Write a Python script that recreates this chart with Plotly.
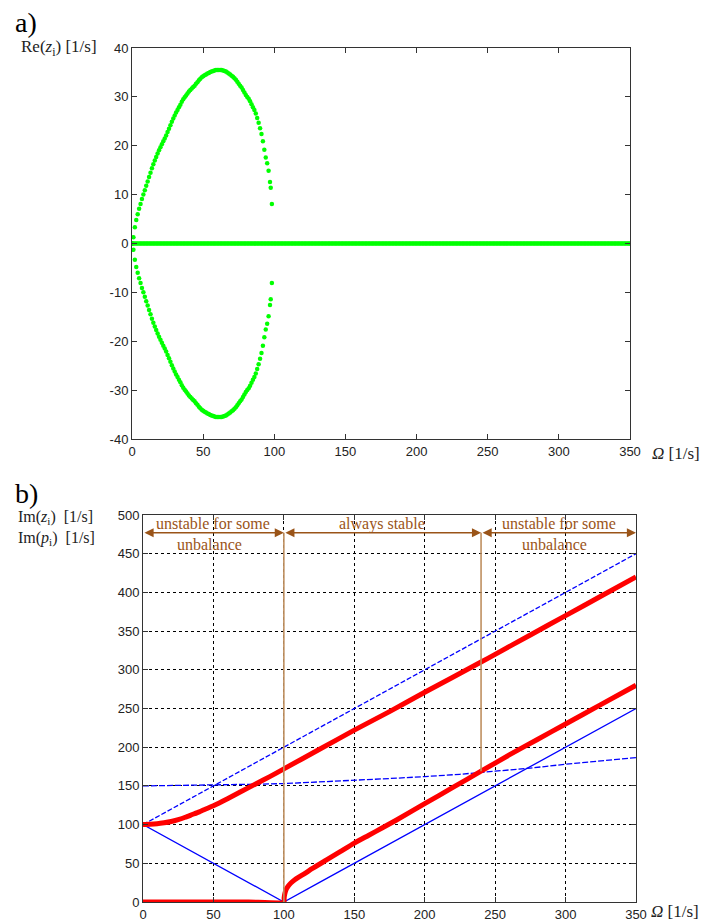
import plotly.graph_objects as go

W, H = 719, 924

# ---------------- panel a: real parts of the eigenvalues ----------------
omega_arc = [0, 1, 2, 3, 4, 5, 6, 7, 8, 9, 10, 11, 12, 13, 14, 15, 16, 17, 18, 19,
             20, 21, 22, 23, 24, 25, 26, 27, 28, 29, 30, 31, 32, 33, 34, 35, 36, 37,
             38, 39, 40, 41, 42, 43, 44, 45, 46, 47, 48, 49, 50, 51, 52, 53, 54, 55,
             56, 57, 58, 59, 60, 61, 62, 63, 64, 65, 66, 67, 68, 69, 70, 71, 72, 73,
             74, 75, 76, 77, 78, 79, 80, 81, 82, 83, 84, 85, 86, 87, 88, 89, 90, 91,
             92, 93, 94, 95, 96, 97, 97.5, 98.3]
re_upper = [0, 1.3, 3.3, 4.8, 6.0, 7.1, 8.1, 9.1, 10.0, 10.9, 11.8, 12.7, 13.6, 14.5,
            15.4, 16.2, 17.0, 17.7, 18.4, 19.1, 19.7, 20.3, 20.9, 21.5, 22.1, 22.8,
            23.5, 24.2, 24.9, 25.6, 26.2, 26.8, 27.3, 27.9, 28.4, 29.0, 29.5, 29.9,
            30.3, 30.7, 31.1, 31.4, 31.7, 32.0, 32.3, 32.7, 33.0, 33.4, 33.7, 34.0,
            34.2, 34.4, 34.6, 34.8, 34.9, 35.1, 35.2, 35.3, 35.4, 35.5, 35.5, 35.5,
            35.5, 35.5, 35.4, 35.3, 35.2, 35.0, 34.8, 34.6, 34.3, 34.1, 33.8, 33.5,
            33.1, 32.7, 32.3, 31.9, 31.4, 30.9, 30.4, 30.0, 29.6, 29.1, 28.5, 27.9,
            27.3, 26.6, 25.7, 24.7, 23.6, 22.4, 20.9, 19.2, 17.6, 16.4, 14.9, 12.6,
            11.4, 8.1]
re_lower = [0, -1.3, -3.3, -4.8, -6.0, -7.1, -8.1, -9.1, -10.0, -10.9, -11.8, -12.7,
            -13.6, -14.5, -15.4, -16.2, -17.0, -17.7, -18.4, -19.1, -19.7, -20.3,
            -20.9, -21.5, -22.1, -22.8, -23.5, -24.2, -24.9, -25.6, -26.2, -26.8,
            -27.3, -27.9, -28.4, -29.0, -29.5, -29.9, -30.3, -30.7, -31.1, -31.4,
            -31.7, -32.0, -32.3, -32.7, -33.0, -33.4, -33.7, -34.0, -34.2, -34.4,
            -34.6, -34.8, -34.9, -35.1, -35.2, -35.3, -35.4, -35.5, -35.5, -35.5,
            -35.5, -35.5, -35.4, -35.3, -35.2, -35.0, -34.8, -34.6, -34.3, -34.1,
            -33.8, -33.5, -33.1, -32.7, -32.3, -31.9, -31.4, -30.9, -30.4, -30.0,
            -29.6, -29.1, -28.5, -27.9, -27.3, -26.6, -25.7, -24.7, -23.6, -22.4,
            -20.9, -19.2, -17.6, -16.4, -14.9, -12.6, -11.4, -8.1]
omega_axis = list(range(0, 351))
re_axis = [0.0] * len(omega_axis)

# ---------------- panel b: imaginary parts ----------------
omega_p = [0, 25, 50, 75, 100, 125, 150, 175, 200, 225, 250, 275, 300, 325, 350]
im_p_sum = [100, 125, 150, 175, 200, 225, 250, 275, 300, 325, 350, 375, 400, 425, 450]
im_p_diff = [100, 75, 50, 25, 0, 25, 50, 75, 100, 125, 150, 175, 200, 225, 250]
im_p_flat = [150, 150.5, 151, 152, 153, 155, 157, 159.5, 162, 165, 169, 173, 178, 182, 186.5]

omega_z_up = [0, 5, 10, 15, 20, 25, 30, 35, 40, 45, 50, 60, 70, 80, 90, 100, 125,
              150, 175, 200, 240, 250, 275, 300, 325, 350]
im_z_up = [100, 100.3, 101, 102.3, 104, 106.5, 109.5, 113, 116.5, 120.5, 124.5,
           133.5, 143, 152.5, 162, 172, 197, 222, 246, 271, 310, 320, 345, 370, 395, 420]
omega_z_low = [0, 25, 50, 75, 100, 100.2, 100.5, 101, 102, 103, 105, 108, 110, 115,
               120, 130, 140, 150, 160, 170, 180, 200, 220, 240, 260, 280, 300, 325, 350]
im_z_low = [0, 0, 0, 0, 0, 5, 9, 13, 17.5, 20.5, 24.5, 29, 31.5, 37, 43, 54, 65, 76,
            86, 96, 106, 127, 148, 169, 190, 210, 230, 255, 280]

# stability regions along Omega
region_bounds = [0, 100, 240, 350]
region_top = ["unstable for some", "always stable", "unstable for some"]
region_bottom = ["unbalance", "", "unbalance"]
boundary_low = [0, 169]   # lower ends of the two boundary markers

x_ticks = [0, 50, 100, 150, 200, 250, 300, 350]
ya_ticks = [40, 30, 20, 10, 0, -10, -20, -30, -40]
ya_text = ["40", "30", "20", "10", "0", "-10", "-20", "-30", "-40"]
yb_ticks = [0, 50, 100, 150, 200, 250, 300, 350, 400, 450, 500]

GREEN = "#00ff00"
RED = "#ff0000"
BLUE = "#0000ff"
BROWN = "#9a5418"
TAN = "#bf9060"
SERIF = "Liberation Serif"
SANS = "Liberation Sans"


def px(x):
    return x / W


def py(y):
    return 1 - y / H


fig = go.Figure()

# panel a
fig.add_trace(go.Scatter(x=omega_axis, y=re_axis, mode="markers", xaxis="x", yaxis="y",
                         marker=dict(color=GREEN, size=4.5), showlegend=False))
fig.add_trace(go.Scatter(x=omega_arc, y=re_upper, mode="markers", xaxis="x", yaxis="y",
                         marker=dict(color=GREEN, size=4.5), showlegend=False))
fig.add_trace(go.Scatter(x=omega_arc, y=re_lower, mode="markers", xaxis="x", yaxis="y",
                         marker=dict(color=GREEN, size=4.5), showlegend=False))

# panel b: blue lines
for vals, dash in [(im_p_sum, "5px,2px"), (im_p_diff, "solid"), (im_p_flat, "6px,2px")]:
    fig.add_trace(go.Scatter(x=omega_p, y=vals, mode="lines", xaxis="x2", yaxis="y2",
                             line=dict(color=BLUE, width=1.3, dash=dash), showlegend=False))
# panel b: red curves
for xs, ys in [(omega_z_up, im_z_up), (omega_z_low, im_z_low)]:
    fig.add_trace(go.Scatter(x=xs, y=ys, mode="lines", xaxis="x2", yaxis="y2",
                             line=dict(color=RED, width=5, shape="spline", smoothing=0.6),
                             showlegend=False))

# region boundaries (vertical brown lines)
ARROW_Y = 477
for xb, yl in zip(region_bounds[1:3], boundary_low):
    fig.add_shape(type="line", xref="x2", yref="y2", x0=xb, x1=xb, y0=yl, y1=ARROW_Y,
                  line=dict(color=TAN, width=1.6), layer="above")

annotations = []
# double-headed arrows and region labels
for i in range(3):
    x0, x1 = region_bounds[i], region_bounds[i + 1]
    annotations.append(dict(x=x1, y=ARROW_Y, ax=x0, ay=ARROW_Y, xref="x2", yref="y2",
                            axref="x2", ayref="y2", showarrow=True, arrowhead=2,
                            arrowside="end+start", arrowsize=1.3, arrowwidth=1.4,
                            arrowcolor=BROWN, text="", standoff=0, startstandoff=0))
    xm = (x0 + x1) / 2
    annotations.append(dict(x=xm, y=ARROW_Y, xref="x2", yref="y2", yshift=9,
                            text=region_top[i], showarrow=False,
                            font=dict(family=SERIF, size=16, color=BROWN)))
    if region_bottom[i]:
        annotations.append(dict(x=xm - 3, y=ARROW_Y, xref="x2", yref="y2", yshift=-12,
                                text=region_bottom[i], showarrow=False,
                                font=dict(family=SERIF, size=16, color=BROWN)))

# panel letters and axis titles
lbl = dict(xref="paper", yref="paper", showarrow=False, xanchor="left", yanchor="middle")
annotations += [
    dict(lbl, x=px(13), y=py(22), text="a)",
         font=dict(family=SERIF, size=28, color="black")),
    dict(lbl, x=px(13), y=py(493), text="b)",
         font=dict(family=SERIF, size=28, color="black")),
    dict(lbl, x=px(19), y=py(48), text="Re(<i>z</i><sub>i</sub>) [1/s]",
         font=dict(family=SERIF, size=17, color="#222")),
    dict(lbl, x=px(16), y=py(517), text="Im(<i>z</i><sub>i</sub>)  [1/s]",
         font=dict(family=SERIF, size=16, color="#222")),
    dict(lbl, x=px(16), y=py(538), text="Im(<i>p</i><sub>i</sub>)  [1/s]",
         font=dict(family=SERIF, size=16, color="#222")),
    dict(lbl, x=px(650), y=py(453), text="<i>Ω</i> [1/s]",
         font=dict(family=SERIF, size=17, color="#222")),
    dict(lbl, x=px(649), y=py(911), text="<i>Ω</i> [1/s]",
         font=dict(family=SERIF, size=17, color="#222")),
]

axis_common = dict(showline=True, linecolor="#333", linewidth=1, mirror="ticks",
                   ticks="inside", ticklen=5, tickcolor="#333", zeroline=False,
                   tickfont=dict(family=SANS, size=13, color="#222"), automargin=False,
                   fixedrange=True)

fig.update_layout(
    width=W, height=H, margin=dict(l=0, r=0, t=0, b=0),
    paper_bgcolor="white", plot_bgcolor="white", showlegend=False,
    xaxis=dict(axis_common, domain=[px(132), px(630)], range=[0, 350], anchor="y",
               tickvals=x_ticks, showgrid=False),
    yaxis=dict(axis_common, domain=[py(439), py(48)], range=[-40, 40], anchor="x",
               tickvals=ya_ticks, ticktext=ya_text, showgrid=False),
    xaxis2=dict(axis_common, domain=[px(143), px(636)], range=[0, 350], anchor="y2",
                tickvals=x_ticks, showgrid=True, gridcolor="black", gridwidth=1,
                griddash="3px,3px"),
    yaxis2=dict(axis_common, domain=[py(902), py(515)], range=[0, 500], anchor="x2",
                tickvals=yb_ticks, showgrid=True, gridcolor="black", gridwidth=1,
                griddash="3px,3px"),
    annotations=annotations,
)

fig.write_html("out.html")
